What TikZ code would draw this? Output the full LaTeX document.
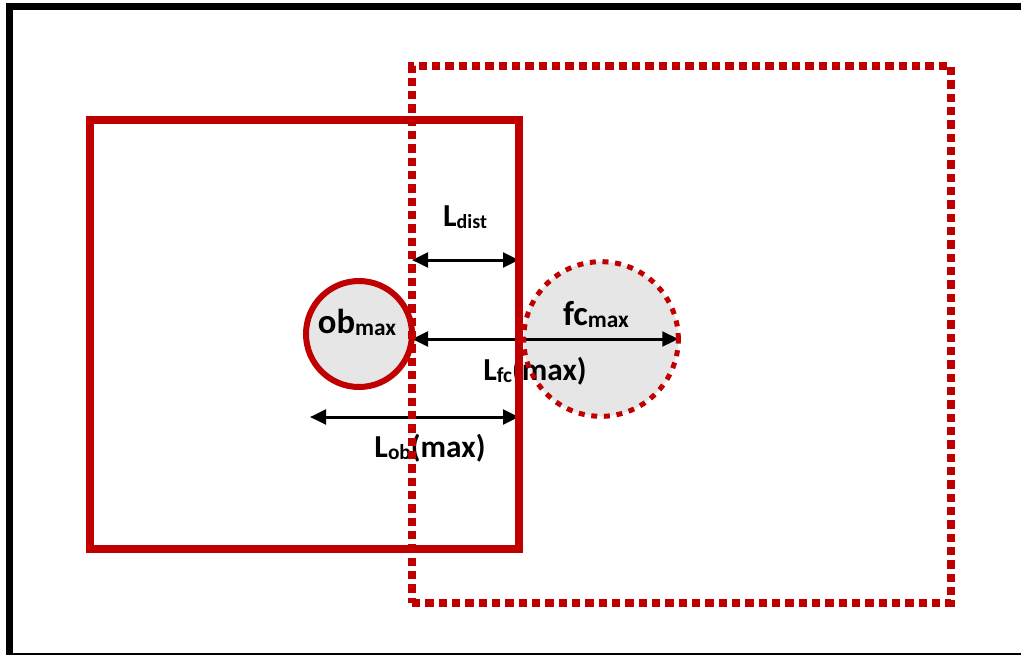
\documentclass[tikz,border=0pt]{standalone}
\usepackage{fontspec}
\setmainfont{Carlito}
\usepackage{xcolor}
\usetikzlibrary{arrows.meta}

\definecolor{boxred}{HTML}{C00000}
\definecolor{spotgray}{HTML}{E6E6E6}
\newcommand{\symsub}[3][15]{#2\raisebox{-1.5pt}{\fontsize{#1}{#1}\selectfont #3}}

\begin{document}
\begin{tikzpicture}[
  x=0.75pt, y=-0.75pt,
  frame/.style={draw=black, line width=5pt},
  obbox/.style={rectangle, draw=boxred, line width=6.5pt, minimum width=321.75pt, minimum height=321.75pt, inner sep=0pt, outer sep=0pt},
  fcbox/.style={rectangle, draw=boxred, line width=6.25pt, dash pattern=on 6.25pt off 3.75pt, minimum width=404.25pt, minimum height=402.75pt, inner sep=0pt, outer sep=0pt},
  spot/.style={circle, fill=spotgray, inner sep=0pt, outer sep=0pt},
  obring/.style={draw=boxred, line width=4.5pt},
  fcring/.style={draw=boxred, line width=3.75pt, dash pattern=on 4.5pt off 5pt},
  label/.style={font=\fontsize{24}{26}\selectfont\bfseries, text=black, inner sep=0pt, anchor=base},
  line/.style={{Triangle[length=12pt,width=11pt]}-{Triangle[length=12pt,width=11pt]}, line width=2.25pt}
]
\useasboundingbox (0,0) rectangle (1021,654);
\clip (0,0) rectangle (1021,654);
\draw[frame] (9.5,6.5) rectangle (1030,656);

% circle fills
\node[spot, minimum size=79.5pt] (ob) at (359,334) {};
\node[spot, minimum size=116pt] (fc) at (601,339) {};

% labels
\node[label] (ldist) at (465,226) {\symsub{L}{dist}};
\node[label] (obmax) at (357,333) {\fontsize{26}{28}\selectfont\symsub[17.5]{ob}{max}};
\node[label] (fcmax) at (596,325) {\fontsize{26}{28}\selectfont\symsub[17.5]{fc}{max}};
\node[label] (lfc) at (535,380) {\symsub[16]{L}{fc}\fontsize{23.5}{25}\selectfont(max)};
\node[label] (lob) at (430,457) {\symsub[16]{L}{ob}\fontsize{23.5}{25}\selectfont(max)};

% boxes
\node[obbox] (obbox) at (304.5,334.5) {};
\node[fcbox] (fcbox) at (681.5,334.5) {};

\coordinate (distrow) at (0,260);
\coordinate (obrow) at (310,417);

\draw[line] (fcbox.west |- distrow) -- (obbox.east |- distrow);
\draw[line] (fcbox.west |- fc.center) -- (fc.east);
\draw[line] (obrow) -- (obbox.east |- obrow);

% box edges over the arrows
\node[obbox] at (obbox.center) {};
\node[fcbox] at (fcbox.center) {};

\draw[obring] (ob.center) circle[radius=39.75pt];
\draw[fcring] (fc.center) circle[radius=58pt];
\end{tikzpicture}
\end{document}
